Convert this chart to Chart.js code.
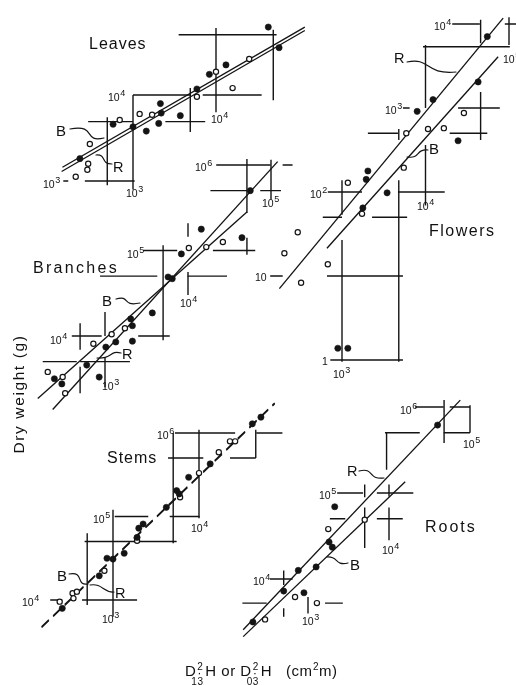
<!DOCTYPE html>
<html><head><meta charset="utf-8">
<script src="https://cdn.jsdelivr.net/npm/chart.js@4.4.1/dist/chart.umd.min.js"></script>
<style>
html,body{margin:0;padding:0;background:#fff;overflow:hidden}
#wrap{position:relative;width:516px;height:685px;overflow:hidden;background:#fff}
#c{position:absolute;left:0;top:0}
.t{position:absolute;font-family:"Liberation Sans",Arial,sans-serif;color:#111;line-height:1;white-space:nowrap}
.d{font-size:10.5px}
.e{font-size:9px;position:relative;top:-5px;margin-left:0.5px}
.p{font-size:16px;letter-spacing:1px}
.lb{font-size:15px}
.ss{display:inline-block;position:relative;width:9px;height:1em}
.su{position:absolute;left:1px;top:1px;font-size:10px}
.dt{position:absolute;left:1px;top:5px;font-size:13px}
.sb{position:absolute;left:-5px;top:16px;font-size:10px}
</style>
</head><body>
<div id="wrap"><canvas id="c" width="516" height="685"></canvas></div>
<script>
// ---------- DATA (log10 D²H [cm²m], log10 dry weight [g]) ----------
const leavesFilled = [[2.36,3.26],[3.00,3.63],[3.16,3.58],[2.76,3.66],[3.31,3.67],[3.34,3.79],[3.33,3.90],[3.57,3.76],[3.77,4.07],[3.92,4.24],[4.12,4.35],[4.63,4.79],[4.76,4.55]];
const leavesOpen = [[2.31,3.05],[2.45,3.13],[2.46,3.20],[2.48,3.43],[2.84,3.71],[3.08,3.78],[3.23,3.77],[3.77,3.98],[4.00,4.27],[4.20,4.08],[4.40,4.42]];
const leavesLineB = [[2.15,3.16],[5.07,4.79]];
const leavesLineR = [[2.14,3.11],[5.07,4.75]];
const leavesGridH = [[3.00,2.42,3.02],[3.00,2.16,2.22],[3.69,2.46,3.00],[3.69,3.39,3.87],[4.00,3.00,3.69],[4.00,3.84,4.55],[4.70,3.55,4.73]];
const leavesGridV = [[3.00,2.90,4.00],[2.69,2.95,3.74],[3.69,3.57,4.08],[4.00,3.80,4.78],[4.69,3.94,4.76]];

const flowersFilled = [[4.74,3.85],[4.63,3.31],[4.09,3.10],[3.90,2.96],[4.39,2.61],[3.31,2.25],[3.29,2.15],[3.54,1.99],[3.25,1.81],[2.95,0.14],[3.07,0.14]];
const flowersOpen = [[4.46,2.94],[4.22,2.76],[4.03,2.75],[3.77,2.70],[3.74,2.29],[3.07,2.11],[3.24,1.74],[2.47,1.52],[2.31,1.27],[2.83,1.14],[2.51,0.92]];
const flowersLineR = [[2.25,0.85],[4.93,4.07]];
const flowersLineB = [[2.82,1.33],[4.87,3.61]];
const flowersGridH = [[0.00,2.86,3.73],[1.00,2.82,3.73],[1.00,2.14,2.29],[1.70,2.77,3.00],[1.70,3.36,3.78],[2.00,2.83,3.24],[2.00,3.67,4.23],[2.70,3.31,3.67],[2.70,4.29,4.74],[3.00,3.73,3.81],[3.00,4.39,4.89],[3.73,3.97,5.01],[4.00,4.32,4.65],[4.00,4.95,5.10]];
const flowersGridV = [[3.00,-0.02,1.43],[3.00,1.73,2.14],[3.68,-0.02,2.14],[3.68,2.62,2.75],[4.00,1.84,2.56],[4.00,3.00,3.75],[4.66,2.62,3.19],[4.66,3.77,4.05],[5.00,3.75,4.08]];

const branchesFilled = [[4.75,5.70],[4.16,5.25],[4.65,5.15],[3.92,4.96],[3.76,4.69],[3.81,4.67],[3.57,4.27],[3.31,4.20],[3.33,4.12],[3.13,3.93],[3.33,3.94],[3.01,3.87],[2.78,3.66],[2.93,3.52],[2.39,3.50],[2.48,3.44]];
const branchesOpen = [[4.01,5.03],[4.22,5.04],[4.42,5.10],[3.24,4.09],[3.08,4.02],[2.86,3.91],[2.31,3.58],[2.49,3.52],[2.52,3.33]];
const branchesLineR = [[2.37,3.14],[5.08,6.04]];
const branchesLineB = [[2.19,3.27],[4.71,5.45]];
const branchesGridH = [[6.00,4.34,4.99],[6.00,5.14,5.26],[5.70,4.27,4.71],[5.70,4.87,5.12],[5.00,3.46,3.87],[5.00,4.30,4.81],[4.70,2.94,3.63],[4.70,3.99,4.47],[4.00,3.40,3.78],[4.00,2.60,2.96],[3.70,2.25,2.66],[3.70,2.70,3.30]];
const branchesGridV = [[4.71,5.44,6.07],[4.71,4.95,5.15],[5.00,5.60,6.06],[4.00,5.16,5.32],[3.70,3.95,5.06],[4.00,4.48,4.75],[2.70,3.84,4.15],[2.70,3.33,3.64],[3.00,4.00,4.28],[3.00,3.40,3.75]];

const stemsFilled = [[2.41,3.90],[2.84,4.29],[2.93,4.50],[3.00,4.49],[3.13,4.56],[3.28,4.75],[3.30,4.86],[3.35,4.91],[3.62,5.11],[3.74,5.31],[3.77,5.27],[3.88,5.47],[4.13,5.63],[4.62,6.11],[4.72,6.19]];
const stemsOpen = [[2.38,3.98],[2.53,4.08],[2.54,4.02],[2.58,4.10],[2.90,4.35],[3.28,4.71],[3.78,5.23],[4.00,5.52],[4.23,5.77],[4.36,5.90],[4.42,5.90]];
const stemsLineB = [[2.17,3.68],[4.88,6.36]];
const stemsLineR = [[2.17,3.67],[4.88,6.35]];
const stemsGridH = [[4.00,2.27,2.41],[4.00,2.64,3.28],[4.70,2.67,3.74],[5.00,3.02,3.41],[5.00,3.66,4.01],[5.70,3.64,4.05],[5.70,4.36,4.66],[6.00,3.72,4.42],[6.00,4.67,4.97]];
const stemsGridV = [[3.00,3.80,5.08],[2.70,3.94,4.80],[3.70,4.68,6.00],[4.00,4.98,6.04],[4.66,5.70,6.04]];

const rootsFilled = [[4.60,5.79],[3.33,4.84],[3.26,4.43],[3.30,4.37],[3.10,4.14],[2.88,4.10],[2.70,3.86],[2.95,3.84],[2.32,3.50]];
const rootsOpen = [[3.70,4.69],[3.25,4.58],[2.84,3.79],[3.11,3.72],[2.47,3.53]];
const rootsLineR = [[2.20,3.41],[4.88,6.08]];
const rootsLineB = [[2.20,3.33],[4.20,5.13]];
const rootsGridH = [[4.00,2.53,2.81],[3.72,2.19,2.49],[3.72,3.21,3.43],[4.70,3.27,3.46],[4.70,3.85,4.17],[5.00,3.36,3.68],[5.00,3.85,4.30],[5.70,3.95,4.38],[5.70,4.67,5.00],[6.00,4.32,4.67],[6.00,4.75,5.00]];
const rootsGridV = [[2.70,3.93,4.10],[2.70,3.56,3.66],[3.00,3.60,3.79],[3.70,4.36,4.83],[3.70,4.95,5.10],[4.00,4.45,4.83],[4.00,4.96,5.10],[3.97,5.27,5.70],[4.68,5.58,6.08],[5.00,5.70,6.02]];

// ---------- LAYOUT (where each panel's decades sit on the page) ----------
const W = 516, H = 685, INK = '#141414';
const frames = {
  leaves:   {xRef:3, xPx:133, xPpd:83,   yRef:3, yPx:181, yPpd:86},
  flowers:  {xRef:3, xPx:342, xPpd:83.5, yRef:0, yPx:360, yPpd:84},
  branches: {xRef:3, xPx:105, xPpd:83,   yRef:4, yPx:336, yPpd:85.5},
  stems:    {xRef:3, xPx:113, xPpd:86,   yRef:4, yPx:600, yPpd:83.5},
  roots:    {xRef:3, xPx:308, xPpd:81,   yRef:4, yPx:579, yPpd:86}
};
const panelData = {
  leaves:   [leavesFilled, leavesOpen, leavesLineB, leavesLineR, leavesGridH, leavesGridV],
  flowers:  [flowersFilled, flowersOpen, flowersLineB, flowersLineR, flowersGridH, flowersGridV],
  branches: [branchesFilled, branchesOpen, branchesLineB, branchesLineR, branchesGridH, branchesGridV],
  stems:    [stemsFilled, stemsOpen, stemsLineB, stemsLineR, stemsGridH, stemsGridV],
  roots:    [rootsFilled, rootsOpen, rootsLineB, rootsLineR, rootsGridH, rootsGridV]
};
const dashedLines = {stems:[10,6]};

const dec = k => `10<span class="e">${k}</span>`;
const textLabels = [
  ['Leaves',89,36,'p'],[dec(4),108,91.5,'d'],[dec(3),43,178.5,'d'],[dec(3),126,187.5,'d'],[dec(4),211,113.5,'d'],
  ['B',56,123,'lb'],['R',113,160,'lb'],
  ['Flowers',429,223,'p'],[dec(4),434,20.5,'d'],[dec(3),385,104.5,'d'],[dec(2),310,188.5,'d'],['10',255,271.5,'d'],['1',322,355.5,'d'],
  [dec(3),333,368.5,'d'],[dec(4),417,200.5,'d'],[dec(5),503,53.5,'d'],['R',394,51,'lb'],['B',429,141,'lb'],
  ['Branches',33,260,'p'],[dec(6),195,161.5,'d'],[dec(5),127,248.5,'d'],[dec(4),50,334.5,'d'],[dec(3),102,380.5,'d'],
  [dec(4),180,297.5,'d'],[dec(5),262,197.5,'d'],['B',102,293,'lb'],['R',122,347,'lb'],
  ['Stems',107,450,'p'],[dec(6),157,429.5,'d'],[dec(5),93,513.5,'d'],[dec(4),22,596.5,'d'],[dec(3),102,613.5,'d'],
  [dec(4),191,522.5,'d'],['B',57,568,'lb'],['R',115,586,'lb'],
  ['Roots',425,519,'p'],[dec(6),400,404.5,'d'],[dec(5),319,489.5,'d'],[dec(4),253,575.5,'d'],[dec(5),463,438.5,'d'],
  [dec(4),382,544.5,'d'],[dec(3),302,615.5,'d'],['R',347,464,'lb'],['B',350,557,'lb']
];
const pointers = [
  [[70,129],[98,124],[82,143],[104,138]],[[112,164],[100,164],[107,154],[96,155]],
  [[407,62],[431,57],[424,75],[456,72]],[[428,150],[415,149],[421,159],[407,157]],
  [[116,299],[131,295],[121,307],[140,303]],[[121,353],[109,350],[113,359],[97,358]],
  [[69,574],[85,571],[75,586],[88,584]],[[114,592],[103,593],[103,583],[90,585]],
  [[359,471],[375,467],[367,480],[384,478]],[[348,563],[334,566],[339,556],[327,557]]
];
const letterSpacing = {Branches:'2.3px', Flowers:'1.5px', Roots:'2px', Stems:'1px', Leaves:'1px'};

// ---------- TEXT (real DOM text) ----------
const wrap = document.getElementById('wrap');
textLabels.forEach(([html,l,t,c]) => {
  const d = document.createElement('div');
  d.className = 't ' + c; d.innerHTML = html;
  d.style.left = l + 'px'; d.style.top = t + 'px';
  if (letterSpacing[html]) d.style.letterSpacing = letterSpacing[html];
  if (c === 'lb' && html === 'R') d.style.fontSize = '14.5px';
  wrap.appendChild(d);
});
const yt = document.createElement('div');
yt.className = 't'; yt.textContent = 'Dry weight (g)';
yt.style.cssText += 'left:19px;top:394px;font-size:15.5px;letter-spacing:1.6px;transform:translate(-50%,-50%) rotate(-90deg);';
wrap.appendChild(yt);
const xt = document.createElement('div');
xt.className = 't';
xt.style.cssText += 'left:185px;top:661px;font-size:15px;letter-spacing:0.5px;';
xt.innerHTML = 'D<span class="ss"><span class="su">2</span><span class="dt">·</span><span class="sb">13</span></span>H or D<span class="ss"><span class="su">2</span><span class="dt">·</span><span class="sb">03</span></span>H&nbsp;&nbsp;&nbsp;(cm<span class="e" style="font-size:10px;top:-6px">2</span>m)';
wrap.appendChild(xt);

// ---------- CHART ----------
const P = v => 10 ** v;
const scales = {}, datasets = [];
for (const [k,f] of Object.entries(frames)) {
  scales['x_'+k] = {type:'logarithmic', axis:'x', display:false, bounds:'data',
    min: P(f.xRef - f.xPx/f.xPpd), max: P(f.xRef + (W - f.xPx)/f.xPpd)};
  scales['y_'+k] = {type:'logarithmic', axis:'y', display:false, bounds:'data',
    min: P(f.yRef - (H - f.yPx)/f.yPpd), max: P(f.yRef + f.yPx/f.yPpd)};
  const [filled, open, lineB, lineR, gH, gV] = panelData[k];
  const ax = {xAxisID:'x_'+k, yAxisID:'y_'+k};
  datasets.push({...ax, label:k+' filled', order:0, showLine:false,
    data: filled.map(p=>({x:P(p[0]), y:P(p[1])})),
    pointRadius:3.1, pointBackgroundColor:INK, pointBorderColor:INK, pointBorderWidth:0.6});
  datasets.push({...ax, label:k+' open', order:0, showLine:false,
    data: open.map(p=>({x:P(p[0]), y:P(p[1])})),
    pointRadius:2.6, pointBackgroundColor:'#fff', pointBorderColor:INK, pointBorderWidth:1.2});
  [['B',lineB],['R',lineR]].forEach(([n,ln]) => datasets.push({...ax, label:k+' '+n, order:1, showLine:true,
    data: ln.map(p=>({x:P(p[0]), y:P(p[1])})), pointRadius:0, borderColor:INK, borderWidth:1.35,
    borderDash: dashedLines[k] || []}));
  const g = [];
  gH.forEach(s => g.push({x:P(s[1]), y:P(s[0])}, {x:P(s[2]), y:P(s[0])}, {x:P(s[2]), y:null}));
  gV.forEach(s => g.push({x:P(s[0]), y:P(s[1])}, {x:P(s[0]), y:P(s[2])}, {x:P(s[0]), y:null}));
  datasets.push({...ax, label:k+' axes', order:2, showLine:true, spanGaps:false, data:g,
    pointRadius:0, borderColor:INK, borderWidth:1.4});
}

const pointerPlugin = {
  id:'pointers',
  afterDatasetsDraw(chart){
    const ctx = chart.ctx; ctx.save();
    ctx.strokeStyle = INK; ctx.lineWidth = 1.2; ctx.lineCap = 'round';
    pointers.forEach(p => { ctx.beginPath(); ctx.moveTo(p[0][0],p[0][1]);
      ctx.bezierCurveTo(p[1][0],p[1][1],p[2][0],p[2][1],p[3][0],p[3][1]); ctx.stroke(); });
    ctx.restore();
  }
};

new Chart(document.getElementById('c'), {
  type:'scatter',
  data:{datasets},
  options:{
    responsive:false, animation:false, devicePixelRatio:1,
    layout:{padding:0, autoPadding:false},
    plugins:{legend:{display:false}, tooltip:{enabled:false}},
    events:[],
    scales,
    elements:{line:{tension:0}}
  },
  plugins:[pointerPlugin]
});
</script>
</body></html>
